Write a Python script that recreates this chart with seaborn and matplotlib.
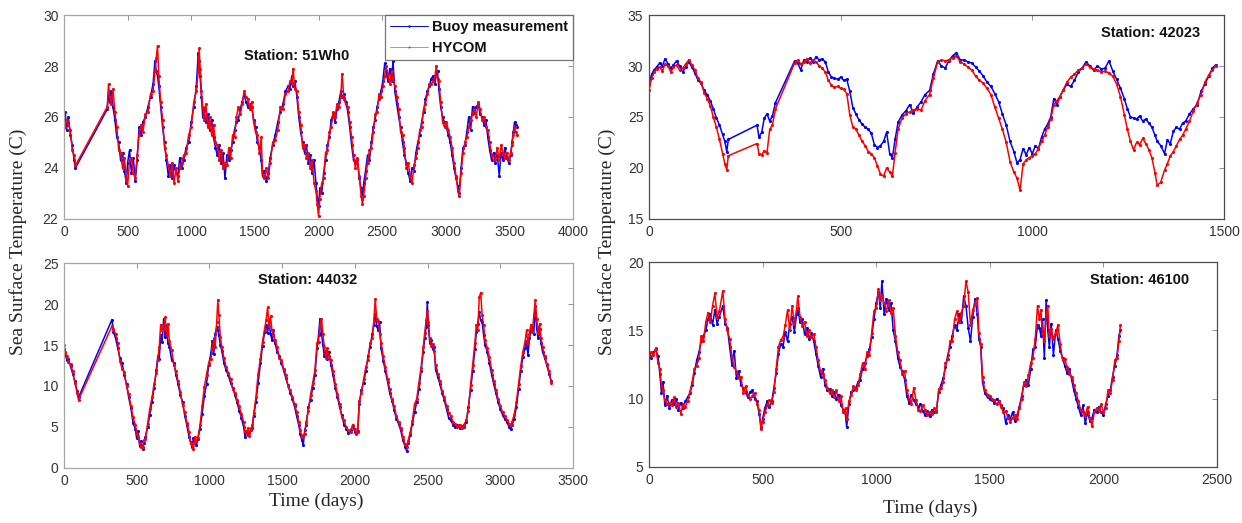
import matplotlib
matplotlib.use("Agg")
import matplotlib.pyplot as plt
from matplotlib.lines import Line2D
import seaborn as sns
import pandas as pd

# ---------------- Station 51Wh0 ----------------
p1_days = [0, 10, 20, 35, 50, 65, 80, 90,
           340, 350, 360, 370, 385, 400, 415, 430, 445, 460, 475, 490, 500, 515, 530, 545, 560, 575, 590, 605, 620,
           640, 660, 680, 700, 715, 725, 735, 745, 760, 775, 790, 805, 820, 835, 850, 865, 880, 895, 910, 925, 940,
           960, 980, 1000, 1020, 1040, 1055, 1062, 1070, 1080, 1090, 1100, 1115, 1130, 1145, 1160, 1175, 1190, 1205,
           1220, 1235, 1250, 1265, 1280, 1295, 1310, 1325, 1340, 1355, 1370, 1385, 1400, 1415, 1430, 1445, 1460, 1475,
           1490, 1505, 1520, 1535, 1550, 1560, 1575, 1590, 1605, 1620, 1640, 1660, 1680, 1700, 1720, 1740, 1760, 1775,
           1790, 1800, 1815, 1830, 1845, 1860, 1875, 1890, 1905, 1920, 1935, 1950, 1965, 1980, 1990, 2000, 2010, 2025,
           2040, 2055, 2070, 2085, 2100, 2115, 2130, 2145, 2160, 2175, 2185, 2200, 2215, 2230, 2245, 2260, 2275, 2290,
           2305, 2320, 2335, 2345, 2355, 2370, 2385, 2400, 2415, 2430, 2445, 2460, 2475, 2490, 2505, 2520, 2530, 2545,
           2560, 2575, 2585, 2600, 2615, 2630, 2645, 2660, 2675, 2690, 2705, 2720, 2735, 2750, 2765, 2780, 2795, 2810,
           2825, 2840, 2855, 2870, 2885, 2900, 2915, 2925, 2935, 2945, 2960, 2975, 2990, 3005, 3020, 3035, 3050, 3065,
           3080, 3095, 3105, 3120, 3135, 3150, 3165, 3180, 3195, 3210, 3225, 3240, 3255, 3270, 3285, 3300, 3315, 3330,
           3345, 3360, 3375, 3390, 3405, 3420, 3435, 3450, 3465, 3480, 3495, 3510, 3520, 3530, 3540, 3550, 3560]
p1_buoy = [25.8, 26.2, 25.5, 26.0, 25.3, 24.9, 24.3, 24.0,
           26.3, 26.9, 26.6, 27.0, 26.4, 25.9, 25.2, 25.0, 24.3, 24.6, 23.9, 23.4, 24.2, 24.7, 23.8, 24.4, 23.5, 24.3, 25.6, 25.3, 25.8,
           26.0, 26.4, 26.8, 27.3, 28.2, 27.8, 27.6, 27.2, 26.4, 25.6, 25.0, 24.3, 23.7, 24.1, 23.6, 24.1, 23.8, 23.7, 24.4, 24.0, 24.3,
           24.8, 25.0, 25.8, 26.4, 27.2, 28.5, 28.2, 27.6, 26.8, 26.0, 26.3, 25.8, 26.1, 25.5, 25.9, 25.2, 24.8, 24.5,
           24.9, 24.2, 24.6, 23.6, 24.5, 24.3, 24.7, 25.0, 25.5, 25.8, 25.9, 26.3, 26.6, 26.9, 26.6, 26.4, 26.5, 26.4,
           25.9, 25.6, 25.0, 24.8, 24.3, 23.7, 23.9, 23.5, 23.8, 24.4, 24.9, 25.3, 25.8, 26.2, 26.5, 27.0, 27.2, 27.1,
           27.6, 27.2, 27.4, 26.8, 26.0, 25.4, 25.0, 24.6, 24.9, 24.2, 24.5, 23.8, 24.3, 23.4, 22.8, 22.5, 23.2, 23.0,
           23.8, 24.3, 24.9, 25.2, 25.9, 26.1, 25.8, 26.3, 26.6, 27.0, 26.8, 26.9, 26.6, 26.2, 25.6, 24.9, 24.3, 24.2,
           24.3, 23.6, 23.2, 22.8, 23.4, 23.9, 24.5, 24.3, 25.0, 25.6, 25.9, 26.4, 26.7, 27.0, 27.4, 28.1, 27.8, 27.4,
           27.9, 27.4, 28.2, 27.0, 26.5, 26.0, 25.6, 25.0, 24.5, 24.2, 23.8, 23.5, 24.0, 23.9, 24.6, 25.0, 25.3, 25.8,
           26.2, 26.7, 27.0, 27.2, 27.5, 27.6, 27.3, 27.7, 27.8, 27.1, 26.4, 26.0, 25.8, 25.6, 25.3, 25.0, 24.5, 24.0,
           23.6, 23.3, 23.0, 24.0, 24.8, 24.9, 25.4, 26.0, 25.5, 26.4, 26.2, 26.4, 26.5, 26.1, 26.0, 25.7, 25.9, 25.2,
           24.7, 24.3, 24.6, 24.2, 24.5, 23.7, 24.6, 24.3, 24.8, 24.4, 24.2, 24.5, 25.0, 25.4, 25.8, 25.7, 25.6]
p1_hycom = [26.0, 25.6, 25.9, 25.7, 25.5, 24.7, 24.5, 24.1,
            26.4, 27.3, 26.8, 26.5, 27.1, 26.2, 25.6, 24.7, 24.6, 24.0, 24.4, 23.6, 23.3, 24.3, 24.4, 23.8, 23.6, 24.5, 25.3, 25.7, 25.4,
            26.1, 26.2, 26.9, 27.0, 27.8, 28.3, 28.8, 27.6, 26.6, 25.9, 24.8, 24.5, 24.1, 23.7, 24.2, 23.4, 24.0, 23.5, 24.0, 24.2, 24.5,
            24.6, 25.3, 25.6, 26.6, 27.0, 27.8, 28.7, 27.9, 27.0, 26.4, 25.9, 26.5, 25.6, 26.0, 25.3, 25.7, 25.0, 24.9,
            24.3, 24.7, 24.0, 24.2, 24.1, 24.8, 24.4, 25.3, 25.2, 26.0, 26.4, 26.1, 26.5, 27.0, 26.8, 26.7, 26.3, 26.6,
            25.8, 25.4, 25.3, 24.6, 25.2, 23.7, 23.6, 24.0, 23.6, 24.2, 25.0, 25.1, 25.5, 26.4, 26.3, 26.9, 27.0, 27.4,
            27.3, 27.9, 27.1, 27.0, 26.2, 25.7, 24.8, 24.9, 24.4, 24.6, 24.0, 24.3, 23.4, 23.1, 22.6, 22.1, 22.8, 23.4,
            23.6, 24.6, 24.7, 25.4, 25.6, 26.2, 26.0, 26.5, 26.4, 26.8, 27.7, 26.7, 26.5, 26.4, 25.8, 25.2, 24.5, 24.0,
            24.4, 23.7, 22.9, 22.6, 22.9, 23.6, 24.2, 24.7, 24.8, 25.4, 26.1, 26.2, 26.9, 26.8, 27.2, 27.6, 28.0, 27.7,
            27.3, 27.8, 27.5, 27.2, 26.8, 26.3, 25.4, 25.3, 24.8, 24.0, 24.2, 23.7, 23.4, 24.1, 24.4, 24.8, 25.5, 25.6,
            26.3, 26.5, 26.9, 27.3, 27.3, 27.4, 27.6, 28.0, 27.5, 27.4, 26.6, 25.8, 25.6, 25.8, 25.5, 25.2, 24.8, 24.2,
            23.7, 23.1, 22.9, 23.8, 24.6, 25.0, 25.2, 25.6, 25.9, 26.1, 26.3, 26.0, 26.6, 26.3, 25.9, 26.0, 25.6, 25.5,
            25.0, 24.5, 24.3, 24.4, 24.8, 24.3, 24.9, 24.6, 24.4, 24.6, 24.3, 24.6, 24.9, 25.3, 25.6, 25.4, 25.3]

# ---------------- Station 42023 ----------------
p2_days = [0, 7, 13, 20, 28, 35, 42, 50, 57, 64, 72, 80, 88, 96, 104, 112, 120, 128, 136, 144, 152, 160, 168, 176,
           184, 192, 198, 203, 207,
           282, 287, 294, 301, 308, 315, 322, 330,
           380, 388, 396, 404, 412, 420, 428, 436, 444, 452, 460, 468, 476, 484, 492, 500, 508, 516, 524, 532, 540,
           548, 556, 564, 572, 580, 588, 596, 604, 612, 620, 628, 635, 642, 650, 660, 670, 680, 690, 700, 710, 720,
           732, 742, 753, 763, 773, 782, 792, 802, 812, 822, 832, 842, 852, 862, 872, 882, 892, 902, 912, 922, 932,
           942, 952, 960, 968, 976, 984, 992, 1000, 1008, 1016, 1024, 1032, 1040, 1048, 1056, 1064, 1072, 1080, 1090,
           1100, 1110, 1120, 1130, 1140, 1150, 1160, 1170, 1180, 1190, 1200, 1210, 1220, 1230, 1240, 1248, 1256, 1264,
           1272, 1280, 1288, 1296, 1304, 1312, 1320, 1326, 1335, 1345, 1352, 1360, 1368, 1376, 1384, 1392, 1400, 1410,
           1420, 1430, 1440, 1450, 1460, 1470, 1478]
p2_buoy = [28.2, 29.2, 29.6, 29.9, 30.3, 30.0, 30.7, 30.2, 29.8, 30.1, 30.5, 30.0, 29.4, 29.9, 30.4, 29.9, 29.3, 28.6, 28.3, 27.6, 27.2, 26.6, 25.8, 24.9,
           24.2, 23.3, 22.6, 21.6, 22.8,
           24.2, 23.0, 23.5, 24.9, 25.3, 24.6, 25.1, 26.4,
           30.5, 30.3, 29.6, 30.6, 30.4, 30.8, 30.4, 30.9, 30.6, 30.7, 30.4, 29.4, 28.9, 28.8, 28.7, 28.9, 28.6, 28.7, 27.5, 25.9, 25.3,
           24.7, 24.3, 24.0, 23.8, 23.4, 22.3, 22.0, 22.2, 22.6, 23.5, 21.4, 21.0, 22.8, 24.5, 25.2, 25.6, 26.2, 25.4, 26.0, 26.5, 27.2,
           27.6, 29.2, 30.5, 30.0, 29.8, 30.5, 31.0, 31.3, 30.6, 30.6, 30.4, 30.3, 29.9, 29.5, 29.0, 28.4, 28.0, 27.3, 26.5, 25.3, 24.2,
           22.6, 21.6, 20.5, 20.8, 21.9, 21.3, 22.0, 21.4, 22.2, 21.9, 23.0, 23.8, 24.3, 25.0, 26.8, 26.2, 27.0, 27.6, 28.2,
           28.0, 28.6, 29.4, 29.8, 30.4, 30.0, 29.6, 30.0, 29.7, 29.8, 30.5, 29.5, 28.7, 27.8, 26.8, 25.8, 25.0, 24.9,
           24.8, 25.1, 24.6, 24.8, 24.4, 24.0, 23.2, 22.6, 22.2, 21.4, 22.7, 22.4, 23.6, 24.0, 23.8, 24.4, 24.6, 25.3,
           25.8, 26.2, 27.5, 28.2, 29.0, 29.8, 30.1]
p2_hycom = [27.6, 28.8, 29.4, 29.7, 29.9, 29.5, 30.2, 30.0, 29.4, 29.9, 30.1, 29.6, 29.8, 30.2, 30.6, 30.1, 29.6, 28.8, 28.4, 27.4, 26.8, 26.1, 25.0, 24.0,
            22.8, 21.4, 20.4, 19.8, 21.2,
            22.4, 21.4, 21.3, 21.7, 21.5, 23.8, 24.2, 25.8,
            30.3, 30.6, 30.2, 30.4, 30.7, 30.3, 30.6, 30.4, 30.0, 29.8, 29.4, 28.6, 28.1, 27.9, 28.0, 27.8, 27.7, 27.3, 25.2, 24.0, 23.8,
            23.2, 22.6, 22.2, 21.6, 21.4, 21.0, 20.2, 19.4, 19.2, 20.0, 19.6, 19.2, 21.5, 23.8, 24.9, 25.3, 25.5, 25.7, 25.8, 25.7, 26.6,
            27.2, 28.8, 30.4, 30.6, 30.5, 30.6, 30.8, 31.0, 30.4, 30.2, 29.9, 29.6, 29.0, 28.6, 28.3, 27.8, 27.2, 26.0, 24.9, 23.8, 22.5,
            20.6, 19.6, 19.0, 17.8, 20.4, 20.8, 21.0, 21.2, 21.4, 21.9, 22.6, 23.2, 24.0, 24.8, 26.2, 26.6, 27.0, 27.6, 28.4,
            28.9, 29.2, 29.6, 29.8, 30.2, 29.9, 29.7, 29.6, 29.4, 29.5, 29.3, 29.0, 28.2, 27.0, 25.2, 23.8, 22.6, 21.8,
            22.5, 22.3, 22.9, 22.4, 21.8, 21.0, 19.5, 18.3, 18.6, 19.8, 20.4, 21.2, 21.6, 22.2, 22.8, 23.2, 23.8, 24.6,
            25.6, 26.4, 27.2, 28.4, 29.1, 29.6, 30.0]

# ---------------- Station 44032 ----------------
p3_days = [0, 10, 20, 30, 45, 60, 75, 90, 100,
           330, 340, 355, 370, 385, 400, 415, 430, 445, 460, 475, 490, 500, 510, 520, 530, 540, 550, 560, 575, 590,
           605, 620, 635, 645, 655, 665, 675, 685, 695, 705, 715, 725, 740, 755, 770, 785, 800, 815, 830, 845, 860,
           870, 880, 890, 900, 910, 920, 935, 950, 965, 980, 995, 1010, 1020, 1030, 1040, 1050, 1058, 1065, 1075,
           1085, 1100, 1115, 1130, 1145, 1160, 1175, 1190, 1205, 1220, 1235, 1245, 1255, 1265, 1275, 1285, 1295,
           1305, 1320, 1335, 1350, 1365, 1380, 1390, 1400, 1410, 1420, 1430, 1440, 1450, 1465, 1480, 1495, 1510,
           1525, 1540, 1555, 1570, 1585, 1600, 1615, 1625, 1635, 1645, 1655, 1665, 1680, 1695, 1710, 1725, 1740,
           1750, 1760, 1770, 1780, 1790, 1800, 1810, 1820, 1835, 1850, 1865, 1880, 1895, 1910, 1925, 1940, 1955,
           1970, 1985, 2000, 2010, 2020, 2030, 2045, 2060, 2075, 2090, 2105, 2120, 2130, 2140, 2150, 2160, 2170,
           2180, 2195, 2210, 2225, 2240, 2255, 2270, 2285, 2300, 2315, 2330, 2345, 2355, 2365, 2380, 2395, 2410,
           2425, 2440, 2455, 2470, 2480, 2490, 2498, 2505, 2515, 2525, 2535, 2545, 2555, 2570, 2585, 2600, 2615,
           2630, 2645, 2660, 2675, 2690, 2705, 2720, 2735, 2750, 2765, 2780, 2795, 2810, 2825, 2835, 2845, 2855,
           2865, 2875, 2885, 2895, 2910, 2925, 2940, 2955, 2970, 2985, 3000, 3015, 3030, 3045, 3060, 3070, 3080,
           3095, 3110, 3125, 3140, 3155, 3170, 3180, 3190, 3200, 3210, 3220, 3230, 3240, 3250, 3260, 3270, 3280,
           3290, 3305, 3320, 3335, 3350]
p3_buoy = [14.5, 13.8, 13.2, 13.3, 12.4, 11.5, 10.6, 9.4, 8.6,
           18.1, 16.6, 15.8, 14.6, 13.4, 12.8, 11.3, 10.2, 8.6, 7.3, 5.5, 4.8, 3.6, 4.5, 2.7, 3.3, 2.3, 3.0, 3.8, 5.0, 6.5,
           8.1, 9.8, 12.0, 13.6, 13.3, 16.2, 15.4, 18.2, 16.0, 17.4, 15.2, 14.8, 13.2, 12.8, 11.4, 10.2, 8.9, 8.1, 6.4, 5.2, 3.8,
           3.2, 2.5, 3.6, 3.0, 2.8, 3.5, 4.8, 6.6, 8.8, 10.2, 12.6, 14.0, 15.5, 13.9, 16.4, 17.2, 16.8, 16.2, 15.0,
           14.3, 12.8, 11.9, 11.3, 10.4, 9.8, 8.9, 8.0, 7.0, 6.1, 5.0, 3.8, 4.4, 4.0, 4.3, 4.6, 4.9,
           6.4, 8.1, 10.4, 12.8, 14.9, 16.6, 17.5, 16.5, 17.8, 16.4, 15.6, 16.8, 15.3, 14.2, 13.7, 12.8, 11.9,
           11.0, 10.1, 9.2, 8.4, 7.5, 6.3, 5.2, 4.1, 3.4, 2.8, 4.6, 5.2, 7.4, 8.3, 9.8, 11.3, 14.6,
           16.2, 18.2, 16.5, 15.0, 13.6, 14.3, 13.3, 14.2, 12.6, 11.3, 9.8, 8.7, 7.4, 6.5, 5.3, 4.8, 4.3,
           4.6, 5.1, 4.4, 4.3, 4.5, 7.8, 9.5, 10.4, 11.8, 13.6, 14.8, 16.4, 17.5, 18.8, 17.3, 16.8, 17.8,
           14.6, 13.1, 11.8, 10.5, 9.1, 8.2, 7.1, 6.0, 5.4, 4.6, 3.4, 2.6, 2.1, 3.0, 4.0, 5.4, 6.8,
           8.0, 9.6, 11.8, 14.2, 15.8, 17.2, 20.2, 17.4, 15.2, 15.6, 14.5, 14.8, 12.0, 11.1, 10.2, 9.1, 8.3,
           7.2, 6.1, 5.8, 5.3, 5.0, 5.2, 4.9, 5.1, 5.0, 5.6, 7.4, 9.5, 11.8, 14.5, 16.6, 17.6, 19.0,
           18.0, 17.8, 16.2, 15.0, 14.2, 12.8, 11.4, 10.2, 9.1, 8.0, 7.2, 6.5, 6.0, 5.6, 5.0, 4.7, 5.3,
           6.0, 7.4, 9.6, 11.8, 13.5, 14.6, 15.5, 13.8, 15.8, 16.8, 17.2, 16.4, 19.8, 17.0, 15.8, 16.9, 15.2,
           14.2, 13.4, 12.5, 11.5, 10.6]
p3_hycom = [15.0, 14.2, 13.6, 12.9, 12.7, 11.8, 10.4, 9.2, 8.3,
            17.3, 17.0, 16.3, 15.2, 13.0, 12.1, 11.7, 10.0, 9.0, 7.6, 6.2, 5.3, 4.2, 3.8, 3.1, 2.6, 2.5, 3.4, 3.5, 5.4, 7.2,
            8.6, 10.3, 11.6, 13.2, 14.8, 17.5, 16.8, 17.0, 18.4, 16.2, 17.6, 15.5, 14.4, 12.6, 11.8, 10.6, 9.3, 7.7, 6.8, 5.5, 4.4,
            3.0, 2.8, 2.3, 3.8, 3.2, 3.6, 5.2, 7.5, 9.9, 11.4, 12.8, 13.3, 14.6, 15.8, 14.8, 17.8, 20.5, 18.6, 16.0,
            14.8, 13.4, 12.3, 11.6, 10.9, 9.6, 9.2, 8.3, 7.5, 6.6, 5.6, 4.5, 4.1, 4.9, 3.9, 4.8, 5.3,
            6.7, 8.7, 11.5, 13.3, 15.4, 17.0, 18.1, 19.6, 17.3, 18.5, 16.8, 16.2, 15.6, 14.8, 13.4, 13.2, 12.1,
            11.4, 10.0, 9.5, 8.7, 7.8, 6.8, 5.6, 4.6, 3.8, 4.0, 4.2, 5.6, 7.0, 8.9, 10.4, 11.9, 15.3,
            15.4, 17.4, 18.2, 16.4, 14.7, 13.4, 14.6, 13.6, 13.2, 11.8, 10.3, 9.0, 7.8, 6.2, 5.8, 5.0, 4.6,
            4.4, 5.3, 4.7, 4.2, 4.4, 8.2, 9.2, 10.8, 12.3, 13.2, 15.3, 15.8, 17.9, 20.6, 18.2, 17.9, 16.4,
            15.3, 13.6, 12.3, 10.8, 9.6, 8.4, 7.5, 6.4, 5.6, 4.9, 3.8, 2.9, 2.6, 3.3, 4.3, 5.7, 7.8,
            8.4, 10.4, 12.2, 14.8, 16.5, 18.0, 19.1, 17.8, 15.8, 14.9, 15.1, 14.3, 12.6, 11.5, 10.6, 9.4, 8.6,
            7.6, 6.7, 6.3, 5.6, 5.4, 5.0, 5.3, 4.9, 5.3, 5.8, 7.0, 10.1, 12.6, 15.3, 17.5, 16.8, 20.8,
            21.4, 18.6, 17.4, 15.6, 14.6, 13.5, 12.0, 10.6, 9.5, 8.4, 7.6, 6.8, 6.3, 5.9, 5.4, 5.2, 5.6,
            6.5, 8.0, 10.2, 12.4, 14.2, 15.4, 16.8, 15.2, 16.4, 17.5, 16.6, 18.6, 20.5, 18.2, 16.5, 17.6, 15.8,
            14.8, 13.6, 12.7, 11.8, 10.4]

# ---------------- Station 46100 ----------------
p4_days = [0, 10, 20, 30, 40, 48, 55, 62, 70, 80, 90, 100, 110, 120, 130, 140, 150, 160, 170, 180, 190, 200, 210,
           220, 230, 240, 250, 260, 270, 280, 290, 300, 310, 325, 335, 345, 355, 365, 375, 385, 395, 405, 415, 425,
           435, 445, 455, 465, 475, 485, 493, 500, 510, 520, 530, 540, 550, 560, 570, 580, 590, 600, 610, 620, 630,
           640, 650, 655, 665, 675, 685, 695, 705, 715, 725, 735, 745, 755, 765, 775, 785, 795, 805, 815, 825, 835,
           845, 855, 865, 870, 880, 890, 900, 910, 920, 930, 940, 950, 960, 970, 980, 990, 1000, 1010, 1018, 1025,
           1035, 1045, 1055, 1065, 1075, 1085, 1095, 1105, 1115, 1125, 1135, 1145, 1155, 1165, 1175, 1185, 1195,
           1205, 1215, 1225, 1235, 1245, 1255, 1265, 1275, 1285, 1295, 1305, 1315, 1325, 1335, 1345, 1355, 1365,
           1375, 1385, 1395, 1405, 1415, 1425, 1435, 1445, 1452, 1460, 1468, 1478, 1490, 1500, 1510, 1520, 1530,
           1540, 1550, 1560, 1570, 1580, 1590, 1600, 1610, 1620, 1630, 1640, 1650, 1660, 1670, 1680, 1690, 1700,
           1710, 1718, 1725, 1732, 1740, 1748, 1755, 1762, 1770, 1780, 1790, 1800, 1810, 1820, 1830, 1840, 1850,
           1860, 1870, 1880, 1890, 1900, 1910, 1920, 1930, 1940, 1950, 1960, 1970, 1980, 1990, 2000, 2010, 2020,
           2030, 2040, 2050, 2060, 2068, 2075]
p4_buoy = [13.3, 13.0, 13.4, 13.6, 13.1, 11.8, 10.4, 11.2, 9.5, 10.2, 9.3, 9.9, 9.6, 10.0, 9.2, 9.7, 9.3, 9.8, 10.1, 10.4, 11.0, 11.9, 12.8,
           13.4, 14.2, 14.6, 15.0, 15.8, 16.2, 15.4, 16.5, 15.5, 16.0, 16.8, 15.5, 15.2, 13.8, 12.5, 13.5, 11.5, 12.0, 11.0, 10.8, 10.5,
           10.1, 10.5, 10.6, 10.0, 9.8, 8.9, 7.9, 8.5, 9.3, 9.8, 9.4, 9.8, 10.8, 11.9, 13.3, 14.0, 13.8, 14.9, 14.2, 15.5, 16.0,
           14.9, 16.2, 16.6, 15.6, 15.8, 14.7, 15.2, 14.4, 14.8, 14.2, 13.3, 12.4, 11.6, 12.2, 11.0, 10.6, 10.7, 10.2, 10.5, 10.0, 10.3,
           9.5, 9.2, 8.8, 7.9, 9.6, 10.5, 10.6, 10.8, 11.2, 11.4, 12.2, 12.6, 13.1, 13.6, 14.5, 15.8, 17.0, 17.8, 16.6, 18.6,
           16.2, 17.3, 16.5, 17.0, 15.0, 14.2, 13.0, 12.3, 12.0, 11.4, 10.2, 9.7, 10.3, 9.9, 9.6, 9.4, 9.6,
           9.1, 8.8, 9.1, 8.7, 9.2, 9.0, 9.1, 10.5, 11.0, 11.5, 12.3, 13.2, 13.8, 14.6, 15.4, 15.0, 16.2,
           15.6, 17.5, 16.8, 15.2, 14.2, 16.0, 17.3, 16.2, 14.4, 13.8, 11.2, 10.4, 10.1, 10.0, 9.9, 9.7, 10.0,
           9.8, 9.5, 9.3, 8.2, 8.8, 8.5, 9.0, 8.4, 8.8, 9.4, 10.2, 11.0, 11.4, 11.0, 12.2, 13.6, 13.8,
           15.4, 15.2, 14.6, 15.8, 13.0, 17.2, 15.0, 13.8, 15.5, 13.2, 15.0, 14.4, 13.5, 13.0, 12.4, 11.9, 12.2,
           11.4, 10.6, 10.0, 9.4, 8.8, 9.5, 8.2, 9.0, 8.4, 8.6, 9.2, 9.0, 9.4, 9.0, 8.8, 9.6, 10.2,
           10.6, 11.6, 12.4, 13.2, 14.6, 15.0]
p4_hycom = [13.1, 13.4, 13.2, 13.7, 12.6, 12.2, 10.9, 10.6, 9.9, 9.6, 9.7, 9.5, 10.1, 9.4, 9.7, 8.9, 9.6, 9.4, 9.8, 10.5, 11.2, 12.2, 12.4,
            13.0, 14.6, 14.2, 15.6, 16.3, 15.6, 16.8, 17.7, 16.0, 16.4, 17.9, 15.8, 15.0, 14.4, 13.1, 12.3, 12.0, 11.5, 11.6, 10.4, 10.9,
            10.3, 10.0, 10.2, 10.4, 9.6, 9.2, 7.8, 8.3, 9.0, 9.5, 9.9, 9.7, 10.5, 12.2, 13.8, 14.3, 14.5, 15.4, 16.5, 15.0, 16.8,
            15.5, 16.6, 17.5, 16.0, 15.3, 15.6, 14.6, 15.0, 14.5, 14.7, 13.8, 12.8, 12.0, 11.8, 11.4, 10.8, 10.4, 10.6, 10.1, 10.6, 9.8,
            10.2, 9.0, 9.3, 8.5, 9.8, 10.3, 10.9, 10.6, 11.0, 11.8, 12.6, 12.2, 13.4, 13.2, 14.8, 16.4, 16.6, 18.0, 17.2, 17.6,
            17.0, 16.4, 17.2, 16.3, 16.6, 14.6, 13.4, 12.8, 11.8, 12.0, 10.6, 10.0, 9.6, 10.8, 9.9, 9.2, 9.1,
            9.5, 9.2, 8.8, 9.0, 8.9, 9.3, 9.0, 10.7, 10.8, 11.2, 12.6, 12.9, 14.2, 14.2, 15.8, 16.4, 15.6,
            16.3, 16.8, 18.6, 17.8, 15.4, 16.5, 17.0, 17.4, 14.8, 14.0, 11.6, 10.6, 10.3, 10.2, 10.0, 9.9, 9.6,
            9.8, 9.4, 9.0, 9.1, 8.6, 8.3, 8.6, 8.8, 8.5, 9.3, 10.0, 11.2, 10.9, 11.7, 12.6, 13.0, 14.4,
            16.8, 15.8, 16.5, 14.8, 14.2, 16.2, 16.8, 14.6, 15.1, 14.4, 14.8, 15.4, 14.0, 12.8, 12.9, 12.3, 11.8,
            11.6, 11.0, 10.4, 9.8, 9.2, 9.0, 8.8, 9.4, 8.6, 8.0, 9.0, 9.3, 9.1, 9.6, 9.0, 9.3, 10.6,
            10.4, 11.4, 12.8, 13.0, 14.2, 15.4]

# ---------------- panel settings ----------------
stations = ["Station: 51Wh0", "Station: 42023", "Station: 44032", "Station: 46100"]
x_ticks = [[0, 500, 1000, 1500, 2000, 2500, 3000, 3500, 4000],
           [0, 500, 1000, 1500],
           [0, 500, 1000, 1500, 2000, 2500, 3000, 3500],
           [0, 500, 1000, 1500, 2000, 2500]]
y_ticks = [[22, 24, 26, 28, 30], [15, 20, 25, 30, 35], [0, 5, 10, 15, 20, 25], [5, 10, 15, 20]]
series_names = ["Buoy measurement", "HYCOM"]
series_colors = ["#0000ff", "#ff0000"]

sns.set_style("white")
plt.rcParams["font.family"] = ["Liberation Sans", "DejaVu Sans"]

fig = plt.figure(figsize=(12.42, 5.23), dpi=100)
rects = [
    [0.0515, 0.5813, 0.4099, 0.3900],
    [0.5225, 0.5813, 0.4630, 0.3900],
    [0.0515, 0.1052, 0.4099, 0.3919],
    [0.5225, 0.1071, 0.4574, 0.3919],
]
data = [(p1_days, p1_buoy, p1_hycom), (p2_days, p2_buoy, p2_hycom),
        (p3_days, p3_buoy, p3_hycom), (p4_days, p4_buoy, p4_hycom)]
text_pos = [(0.457, 0.80), (0.873, 0.91), (0.479, 0.917), (0.863, 0.912)]
spine_cols = ["#a6a6a6", "#4d4d4d", "#a6a6a6", "#4d4d4d"]

axes = []
for i, rect in enumerate(rects):
    ax = fig.add_axes(rect)
    days, buoy, hycom = data[i]
    df = pd.DataFrame({"day": days, "buoy": buoy, "hycom": hycom})
    sns.lineplot(data=df, x="day", y="buoy", ax=ax, color=series_colors[0], linewidth=1.1,
                 marker=".", markersize=4.5, markeredgewidth=0, sort=False, estimator=None,
                 legend=False)
    sns.lineplot(data=df, x="day", y="hycom", ax=ax, color=series_colors[1], linewidth=1.1,
                 marker=".", markersize=4.5, markeredgewidth=0, sort=False, estimator=None,
                 legend=False)
    ax.set_xlim(x_ticks[i][0], x_ticks[i][-1])
    ax.set_ylim(y_ticks[i][0], y_ticks[i][-1])
    ax.set_xticks(x_ticks[i])
    ax.set_yticks(y_ticks[i])
    ax.tick_params(direction="in", length=3.5, width=0.6, top=True, right=True,
                   labelsize=10, colors="#808080", labelcolor="#333333", pad=4)
    for s in ax.spines.values():
        s.set_color(spine_cols[i])
        s.set_linewidth(0.9)
    ax.set_xlabel("")
    ax.set_ylabel("")
    tx, ty = text_pos[i]
    ax.text(tx, ty, stations[i], transform=ax.transAxes, ha="center", va="center",
            fontsize=10.5, fontweight="bold", color="#111111")
    axes.append(ax)

handles = [Line2D([], [], color=c, linewidth=0.7, marker=".", markersize=3.5, markeredgewidth=0)
           for c in series_colors]
handles[1].set_alpha(0.55)
leg = axes[0].legend(handles, series_names, loc="upper right", borderaxespad=0, frameon=True,
                     fancybox=False, prop={"weight": "bold", "size": 10.5}, handlelength=2.6,
                     handletextpad=0.3, borderpad=0.35, labelspacing=0.45)
leg.get_frame().set_edgecolor("#555555")
leg.get_frame().set_linewidth(0.9)
for t in leg.get_texts():
    t.set_color("#111111")

serif = ["Liberation Serif", "DejaVu Serif"]
axes[2].set_xlabel("Time (days)", family=serif, fontsize=14, color="#262626")
axes[2].xaxis.set_label_coords(0.495, -0.12)
axes[3].set_xlabel("Time (days)", family=serif, fontsize=14, color="#262626")
axes[3].xaxis.set_label_coords(0.496, -0.16)
fig.text(0.0145, 0.537, "Sea Surface Temperature (C)", rotation=90, ha="center", va="center",
         family=serif, fontsize=14, color="#262626")
fig.text(0.489, 0.537, "Sea Surface Temperature (C)", rotation=90, ha="center", va="center",
         family=serif, fontsize=14, color="#262626")

fig.savefig("out.png", dpi=100, facecolor="white")
